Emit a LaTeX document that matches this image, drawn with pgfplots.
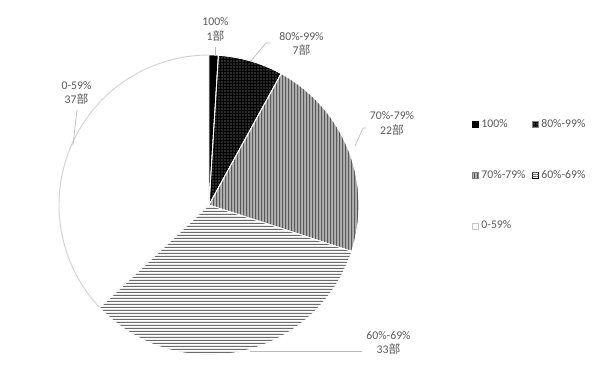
\documentclass[border=0pt]{standalone}
\usepackage{fontspec}
\setmainfont{Carlito}
\newfontfamily\cjk{Noto Sans CJK SC}
\usepackage{pgfplots}
\pgfplotsset{compat=1.18}
\usetikzlibrary{patterns,patterns.meta}
\definecolor{txt}{HTML}{595959}
\pgfdeclarepatternformonly{hstripes}{\pgfqpoint{0pt}{0pt}}{\pgfqpoint{600pt}{2.25pt}}{\pgfqpoint{600pt}{2.25pt}}%
  {\pgfpathrectangle{\pgfqpoint{0pt}{0pt}}{\pgfqpoint{600pt}{1.1pt}}\pgfusepath{fill}}
\pgfdeclarepatternformonly{vstripes}{\pgfqpoint{0pt}{0pt}}{\pgfqpoint{2.25pt}{600pt}}{\pgfqpoint{2.25pt}{600pt}}%
  {\pgfpathrectangle{\pgfqpoint{0pt}{0pt}}{\pgfqpoint{1pt}{600pt}}\pgfusepath{fill}}
% data (number of items per class)
\def\vA{1}\def\vB{7}\def\vC{22}\def\vD{33}\def\vE{37}
\def\cx{209}\def\cy{205}\def\R{150}
\pgfmathsetmacro\aA{90}
\pgfmathsetmacro\aB{90-3.6*\vA}
\pgfmathsetmacro\aC{\aB-3.6*\vB}
\pgfmathsetmacro\aD{\aC-3.6*\vC}
\pgfmathsetmacro\aE{\aD-3.6*\vD}
\pgfmathsetmacro\aF{\aE-3.6*\vE}
\tikzset{
  sA/.style={fill=black},
  sB/.style={fill=black,postaction={pattern={Dots[radius=0.42pt,distance=2.25pt]},pattern color=gray!55}},
  sC/.style={fill=black!30,postaction={pattern=vstripes,pattern color=black!65}},
  sD/.style={fill=white,postaction={pattern=hstripes,pattern color=black!58}},
  sE/.style={fill=white},
}
\begin{document}
\begin{tikzpicture}
\begin{axis}[
  width=450pt, height=282pt, scale only axis,
  xmin=0, xmax=600, ymin=0, ymax=376, y dir=reverse,
  hide axis, clip=false,
  legend image code/.code={\draw[#1] (0pt,-2.25pt) rectangle (4.5pt,2.25pt);},
  legend columns=2,
  legend cell align=left,
  legend style={at={(axis cs:468,114)}, anchor=north west, draw=none, fill=none,
    font=\fontsize{8.8}{10}\selectfont\color{txt},
    row sep=26.5pt,
    /tikz/every even column/.append style={column sep=0pt}},
]
\addplot[draw=none, forget plot] coordinates {(0,0) (600,376)};
% slices
\addplot[forget plot, sE, draw=gray!35, line width=0.7pt, domain=\aF:\aE, samples=80, variable=\t]
  ({\cx+\R*cos(\t)},{\cy-\R*sin(\t)}) -- (axis cs:\cx,\cy) -- cycle;
\addplot[forget plot, sA, draw=white, line width=0.6pt, domain=\aB:\aA, samples=6, variable=\t]
  ({\cx+\R*cos(\t)},{\cy-\R*sin(\t)}) -- (axis cs:\cx,\cy) -- cycle;
\addplot[forget plot, sB, draw=white, line width=0.6pt, domain=\aC:\aB, samples=20, variable=\t]
  ({\cx+\R*cos(\t)},{\cy-\R*sin(\t)}) -- (axis cs:\cx,\cy) -- cycle;
\addplot[forget plot, sC, draw=white, line width=0.6pt, domain=\aD:\aC, samples=50, variable=\t]
  ({\cx+\R*cos(\t)},{\cy-\R*sin(\t)}) -- (axis cs:\cx,\cy) -- cycle;
\addplot[forget plot, sD, draw=white, line width=0.6pt, domain=\aE:\aD, samples=70, variable=\t]
  ({\cx+\R*cos(\t)},{\cy-\R*sin(\t)}) -- (axis cs:\cx,\cy) -- cycle;
% leader lines
\addplot[forget plot, gray!55, line width=0.5pt] coordinates {(215,47) (215,56)};
\addplot[forget plot, gray!55, line width=0.5pt] coordinates {(270,43) (266,43) (251,61)};
\addplot[forget plot, gray!55, line width=0.5pt] coordinates {(366,128) (363,128) (355,146)};
\addplot[forget plot, gray!55, line width=0.5pt] coordinates {(250,351) (362,351)};
\addplot[forget plot, gray!55, line width=0.5pt] coordinates {(77,110) (73,145)};
% labels
\begin{scope}[every node/.style={font=\fontsize{8.8}{10.9}\selectfont, text=txt, align=center, inner sep=0pt}]
\node at (axis cs:215.5,29.5) {100\%\\1{\cjk 部}};
\node at (axis cs:301.5,44) {80\%-99\%\\7{\cjk 部}};
\node at (axis cs:392,123.5) {70\%-79\%\\22{\cjk 部}};
\node at (axis cs:388.5,343) {60\%-69\%\\33{\cjk 部}};
\node at (axis cs:76.5,93) {0-59\%\\37{\cjk 部}};
\end{scope}
% legend
\addlegendimage{sA, draw=black, line width=0.3pt}
\addlegendentry{\makebox[36pt][l]{100\%}}
\addlegendimage{sB, draw=gray, line width=0.3pt}
\addlegendentry{\makebox[36pt][l]{80\%-99\%}}
\addlegendimage{sC, draw=gray, line width=0.3pt}
\addlegendentry{\makebox[36pt][l]{70\%-79\%}}
\addlegendimage{fill=white, draw=none, postaction={pattern={Lines[angle=0,distance=1.8pt,line width=0.7pt]},pattern color=black!60}}
\addlegendentry{\makebox[36pt][l]{60\%-69\%}}
\addlegendimage{fill=white, draw=gray!45, line width=0.4pt}
\addlegendentry{\makebox[36pt][l]{0-59\%}}
\end{axis}
\end{tikzpicture}
\end{document}
